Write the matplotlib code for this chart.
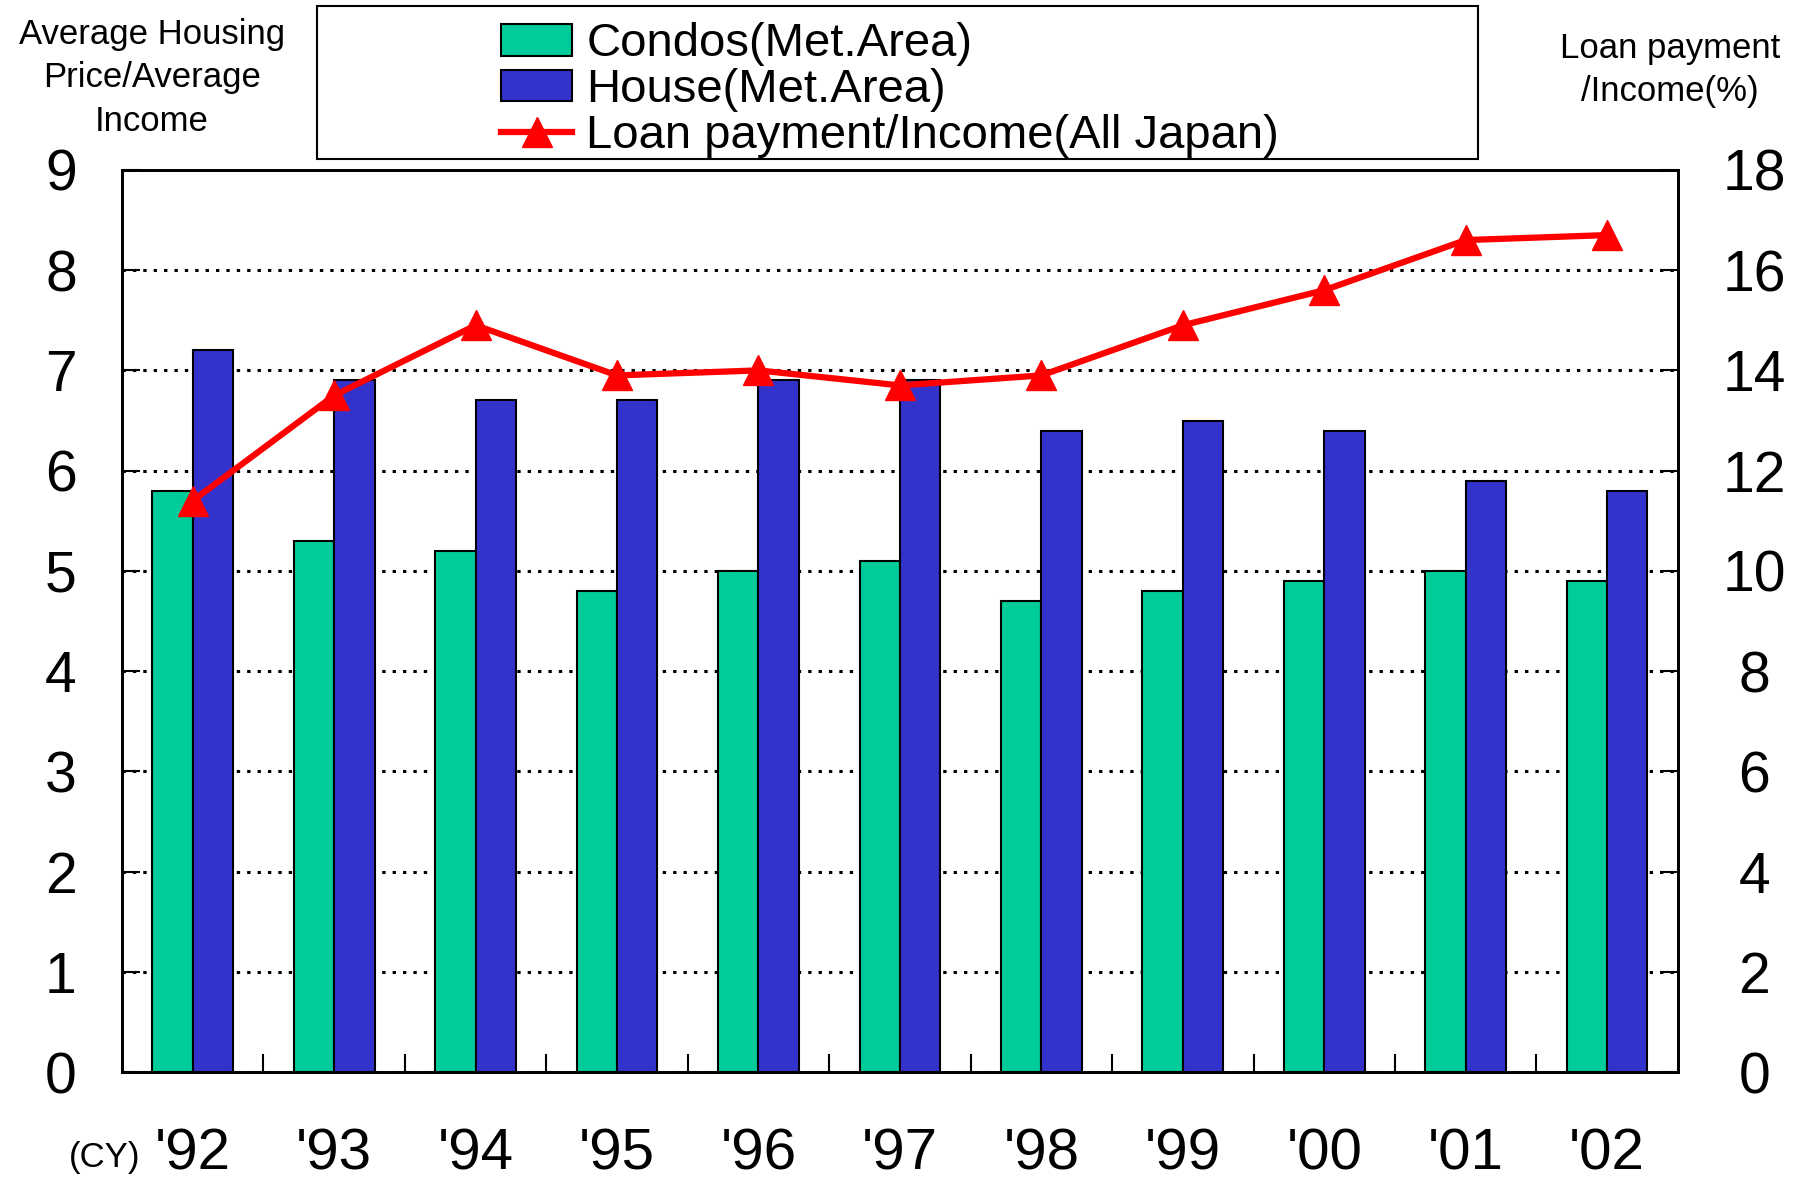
#!/usr/bin/env python

import numpy as np
import matplotlib.pyplot as plt
from matplotlib.patches import Rectangle

years = ["'92", "'93", "'94", "'95", "'96", "'97", "'98", "'99", "'00", "'01", "'02"]
condos = [5.8, 5.3, 5.2, 4.8, 5.0, 5.1, 4.7, 4.8, 4.9, 5.0, 4.9]
house = [7.2, 6.9, 6.7, 6.7, 6.9, 6.9, 6.4, 6.5, 6.4, 5.9, 5.8]
loan = [11.4, 13.5, 14.9, 13.9, 14.0, 13.7, 13.9, 14.9, 15.6, 16.6, 16.7]

FONT = ["Liberation Sans", "DejaVu Sans"]


def main():
    plt.rcParams["font.family"] = FONT
    fig = plt.figure(figsize=(18.08, 11.8), dpi=100)
    ax = fig.add_axes([0.0675, 0.0915, 0.8605, 0.7645])
    ax2 = ax.twinx()

    x = np.arange(len(years))
    w = 0.285
    ax.bar(x - w/2, condos, w, color="#00CC99", edgecolor="black", linewidth=1.5,
           label="Condos(Met.Area)", zorder=3)
    ax.bar(x + w/2, house, w, color="#3333CC", edgecolor="black", linewidth=1.5,
           label="House(Met.Area)", zorder=3)
    ax2.plot(x, loan, color="#FF0000", lw=4.5, marker="^", ms=22,
             label="Loan payment/Income(All Japan)", zorder=4)

    ax.set_xlim(-0.5, len(years) - 0.5)
    ax.set_ylim(0, 9)
    ax2.set_ylim(0, 18)
    ax.set_yticks(range(0, 10))
    ax2.set_yticks(range(0, 19, 2))
    ax.yaxis.grid(True, color="black", linestyle=(0, (1.1, 2.3)), linewidth=2.2, zorder=1)
    ax.set_axisbelow(True)

    ax.set_xticks(x)
    ax.set_xticklabels(years)
    ax.set_xticks(x[:-1] + 0.5, minor=True)
    ax.tick_params(axis="x", which="major", length=0, pad=40, labelsize=42)
    ax.tick_params(axis="x", which="minor", direction="in", length=13, width=1.5)
    ax.tick_params(axis="y", direction="in", length=13, width=1.5, pad=44, labelsize=41)
    ax2.tick_params(axis="y", direction="in", length=13, width=1.5, pad=55, labelsize=41)
    for t in ax.get_yticklabels() + ax2.get_yticklabels():
        t.set_horizontalalignment("center")

    for a in (ax, ax2):
        for s in a.spines.values():
            s.set_linewidth(2)

    ax.set_zorder(ax2.get_zorder() - 1)
    ax2.patch.set_visible(False)

    fig.text(0.084, 1 - 78/1180, "Average Housing\nPrice/Average\nIncome",
             ha="center", va="center", fontsize=25, linespacing=1.4)
    fig.text(0.9236, 1 - 70/1180, "Loan payment\n/Income(%)",
             ha="center", va="center", fontsize=25, linespacing=1.4)
    fig.text(0.058, 1 - 1157/1180, "(CY)", ha="center", va="center", fontsize=25)

    fig.add_artist(Rectangle((0.1755, 0.865), 0.642, 0.13, transform=fig.transFigure,
                             fill=False, edgecolor="black", linewidth=1.5))
    handles = ax.get_legend_handles_labels()[0] + ax2.get_legend_handles_labels()[0]
    labels = [h.get_label() for h in handles]
    fig.legend(handles, labels, loc="upper left", bbox_to_anchor=(0.259, 1.009),
               frameon=False, fontsize=34, handlelength=1.5, handleheight=0.65,
               handletextpad=0.3, labelspacing=0.04, borderpad=0.2)

    fig.savefig("out.png", dpi=100)
    plt.close()


if __name__ == "__main__":
    main()
